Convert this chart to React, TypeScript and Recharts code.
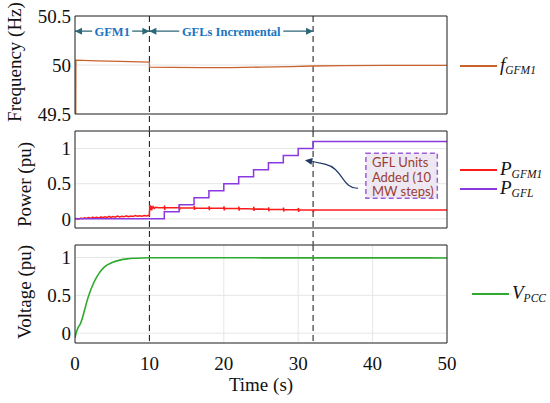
import React from 'react';
import { LineChart, Line, XAxis, YAxis, CartesianGrid, ReferenceLine, ReferenceArea, Legend } from 'recharts';

const timeTicks = [0, 10, 20, 30, 40, 50];
const freqTicks = [49.5, 50, 50.5];
const powerTicks = [0, 0.5, 1];
const voltTicks = [0, 0.5, 1];
const eventTimes = [10, 32];
const legendOrder = ['f_GFM1', 'P_GFM1', 'P_GFL', 'V_PCC'];

// [time (s), value]
const freqGFM1 = [
  [0.1, 49.5], [0.12, 50.05], [3, 50.042], [6, 50.036], [9.98, 50.03], [10.02, 49.978],
  [13, 49.975], [17, 49.973], [21, 49.974], [25, 49.978], [29, 49.984], [32, 49.99],
  [36, 49.994], [42, 49.996], [50, 49.997],
];

const pGFM1 = [
  [0, 0], [0.3, 0.004], [0.5, -0.004], [0.8, 0.01], [1.0, 0.002], [1.3, 0.016], [1.5, 0.005],
  [1.8, 0.02], [2.1, 0.008], [2.4, 0.026], [2.6, 0.012], [2.9, 0.022], [3.2, 0.013], [3.5, 0.03],
  [3.7, 0.016], [4.0, 0.028], [4.3, 0.019], [4.6, 0.036], [4.8, 0.021], [5.1, 0.033], [5.4, 0.024],
  [5.7, 0.04], [6.0, 0.027], [6.3, 0.037], [6.6, 0.029], [6.9, 0.042], [7.2, 0.032], [7.5, 0.041],
  [7.8, 0.034], [8.1, 0.046], [8.4, 0.036], [8.7, 0.044], [9.0, 0.038], [9.3, 0.048], [9.6, 0.04],
  [9.9, 0.047], [10.0, 0.045],
  [10.05, 0.2], [10.15, 0.125], [10.25, 0.185], [10.35, 0.14], [10.5, 0.175], [10.65, 0.15],
  [10.85, 0.165], [11.2, 0.157],
  [12.0, 0.158], [12.03, 0.19], [12.06, 0.125], [12.1, 0.158],
  [14.0, 0.157], [14.03, 0.185], [14.06, 0.128], [14.1, 0.157],
  [16.0, 0.155], [16.03, 0.183], [16.06, 0.127], [16.1, 0.155],
  [18.0, 0.152], [18.03, 0.18], [18.06, 0.124], [18.1, 0.152],
  [20.0, 0.15], [20.03, 0.18], [20.06, 0.12], [20.1, 0.15],
  [22.0, 0.146], [22.03, 0.176], [22.06, 0.116], [22.1, 0.146],
  [24.0, 0.142], [24.03, 0.17], [24.06, 0.112], [24.1, 0.142],
  [26.0, 0.138], [26.03, 0.165], [26.06, 0.108], [26.1, 0.138],
  [28.0, 0.134], [28.03, 0.16], [28.06, 0.104], [28.1, 0.134],
  [30.0, 0.13], [30.03, 0.155], [30.06, 0.1], [30.1, 0.13],
  [32.0, 0.127], [32.04, 0.095], [32.1, 0.126],
  [50.0, 0.125],
];

const pGFL = [
  [0, 0], [12, 0.1], [14, 0.2], [16, 0.3], [18, 0.4], [20, 0.5], [22, 0.6],
  [24, 0.7], [26, 0.8], [28, 0.9], [30, 1.0], [32, 1.1], [50, 1.1],
];

const vPCC = [
  [0, -0.06], [0.2, 0.02], [0.45, 0.08], [0.7, 0.12], [1.0, 0.2], [1.3, 0.31], [1.6, 0.42],
  [2.0, 0.54], [2.4, 0.64], [2.8, 0.72], [3.3, 0.8], [3.8, 0.86], [4.4, 0.905], [5.0, 0.935],
  [6.0, 0.965], [7.0, 0.982], [8.0, 0.99], [9.0, 0.994], [10, 0.996], [20, 0.996], [30, 0.995],
  [40, 0.995], [50, 0.994],
];

const toRows = (pts: number[][]) => pts.map(([t, v]) => ({ t, v }));

const SERIF = '"Liberation Serif", "Times New Roman", serif';
const FRAME = '#262626';
const GRID = '#e6e6e6';
const ARROW = '#2c6677';
const W = 550;
const MARGIN_RIGHT = 103;
const tickFont = { fontFamily: SERIF, fontSize: 19, fill: '#111', style: { fontFamily: SERIF } };

// MATLAB style box: inward ticks on all four sides
function frameAxes(yDomain: number[], yTicks: number[]) {
  return [
    <XAxis key="xt" xAxisId="top" orientation="top" mirror type="number" domain={[0, 50]} ticks={timeTicks}
      allowDataOverflow tick={false} tickSize={4} stroke={FRAME} />,
    <XAxis key="xb" xAxisId="bin" orientation="bottom" mirror type="number" domain={[0, 50]} ticks={timeTicks}
      allowDataOverflow tick={false} tickSize={4} axisLine={false} stroke={FRAME} />,
    <YAxis key="yl" yAxisId="lin" orientation="left" mirror type="number" domain={yDomain} ticks={yTicks}
      allowDataOverflow tick={false} tickSize={4} axisLine={false} stroke={FRAME} />,
    <YAxis key="yr" yAxisId="right" orientation="right" mirror type="number" domain={yDomain} ticks={yTicks}
      allowDataOverflow tick={false} tickSize={4} stroke={FRAME} />,
  ];
}

function SeriesLegend(props: any) {
  const items = [...(props.payload || [])].sort(
    (a: any, b: any) => legendOrder.indexOf(a.value) - legendOrder.indexOf(b.value),
  );
  return (
    <div>
      {items.map((entry: any) => {
        const [main, sub] = String(entry.value).split('_');
        return (
          <div key={entry.value} style={{ display: 'flex', alignItems: 'center', height: 19 }}>
            <span style={{ width: 37, borderTop: `2px solid ${entry.color}`, marginRight: 3 }} />
            <span style={{ fontFamily: SERIF, fontStyle: 'italic', fontSize: 19, lineHeight: '17px', color: '#111', whiteSpace: 'nowrap' }}>
              {main}
              <span style={{ fontSize: 11.5, position: 'relative', top: 3 }}>{sub}</span>
            </span>
          </div>
        );
      })}
    </div>
  );
}

const yLabel = (text: string, x: number, shift = 0) => (props: any) => {
  const vb = props.viewBox;
  const cy = vb.y + vb.height / 2 + shift;
  return (
    <text x={x} y={cy} transform={`rotate(-90 ${x} ${cy})`} textAnchor="middle"
      fontFamily={SERIF} fontSize={19} fill="#111">{text}</text>
  );
};

const spanShape = (label: string, gap: number) => (p: any) => {
  const { x1, y1, x2 } = p;
  const cx = (x1 + x2) / 2;
  return (
    <g>
      <line x1={x1} y1={y1} x2={x2} y2={y1} stroke={ARROW} strokeWidth={1.3} />
      <path d={`M${x1},${y1} l7,-3.5 v7 z`} fill={ARROW} />
      <path d={`M${x2},${y1} l-7,-3.5 v7 z`} fill={ARROW} />
      <rect x={cx - gap / 2} y={y1 - 8} width={gap} height={16} fill="#fff" />
      <text x={cx} y={y1} dy="0.36em" textAnchor="middle" fontFamily={SERIF} fontWeight="bold"
        fontSize={12.5} fill="#1b74c0">{label}</text>
    </g>
  );
};

const curvedArrow = (p: any) => {
  const { x1, y1, x2, y2 } = p;
  const dx = x2 - x1;
  const dy = y2 - y1;
  const pt = (fx: number, fy: number) => `${x1 + fx * dx},${y1 + fy * dy}`;
  return (
    <g>
      <path d={`M${x1},${y1} C${pt(0.3, -0.034)} ${pt(0.283, 0.724)} ${pt(0.623, 0.862)} L${pt(0.86, 0.955)}`}
        fill="none" stroke="#1f3864" strokeWidth={1.2} />
      <path d={`M${x2},${y2} l8,-2.3 l-1.5,6.8 z`} fill="#1f3864" />
    </g>
  );
};

const boxLabel = (props: any) => {
  const vb = props.viewBox;
  const lines = ['GFL Units', 'Added (10', 'MW steps)'];
  return (
    <g>
      {lines.map((s, i) => (
        <text key={s} x={vb.x + 6} y={vb.y + 9.5 + i * 14.5} dy="0.36em" fontFamily="Lato, 'Open Sans', sans-serif"
          fontSize={13} fill="#9b3d33">{s}</text>
      ))}
    </g>
  );
};

function eventLines(yTop: number, yBottom: number) {
  return eventTimes.map((t) => (
    <ReferenceLine key={t} segment={[{ x: t, y: yTop }, { x: t, y: yBottom }]} ifOverflow="visible"
      stroke="#111" strokeWidth={1} strokeDasharray="6 4" />
  ));
}

const freqDomain = [49.5, 50.5];
const powerDomain = [-0.13, 1.25];
const voltDomain = [-0.13, 1.165];

export default function App() {
  return (
    <div style={{ position: 'absolute', left: 0, top: 0, width: W, height: 403, background: '#fff', fontFamily: SERIF }}>
      <div style={{ position: 'absolute', left: 0, top: 0 }}>
        <LineChart width={W} height={134} margin={{ top: 16, right: MARGIN_RIGHT, bottom: 0, left: 0 }}>
          <CartesianGrid stroke={GRID} />
          <XAxis dataKey="t" type="number" domain={[0, 50]} ticks={timeTicks} allowDataOverflow height={20}
            tick={false} tickLine={false} stroke={FRAME} />
          <YAxis type="number" domain={freqDomain} ticks={freqTicks} allowDataOverflow width={75}
            tickLine={false} tickSize={0} tickMargin={4} stroke={FRAME} tick={tickFont}
            label={{ content: yLabel('Frequency (Hz)', 21, -3) }} />
          {frameAxes(freqDomain, freqTicks)}
          {eventLines(50.5, 49.32)}
          <ReferenceLine segment={[{ x: 0, y: 50.345 }, { x: 10, y: 50.345 }]} shape={spanShape('GFM1', 40)} />
          <ReferenceLine segment={[{ x: 10, y: 50.345 }, { x: 32, y: 50.345 }]} shape={spanShape('GFLs Incremental', 104)} />
          <Line data={toRows(freqGFM1)} dataKey="v" name="f_GFM1" stroke="#c9632c" strokeWidth={1.3}
            dot={false} isAnimationActive={false} />
          <Legend layout="vertical" align="center" verticalAlign="middle" content={SeriesLegend}
            wrapperStyle={{ left: 460, top: 65.5 - 9.5, width: 88 }} />
        </LineChart>
      </div>

      <div style={{ position: 'absolute', left: 0, top: 121 }}>
        <LineChart width={W} height={127} margin={{ top: 10, right: MARGIN_RIGHT, bottom: 0, left: 0 }}>
          <CartesianGrid stroke={GRID} />
          <XAxis dataKey="t" type="number" domain={[0, 50]} ticks={timeTicks} allowDataOverflow height={20}
            tick={false} tickLine={false} stroke={FRAME} />
          <YAxis type="number" domain={powerDomain} ticks={powerTicks} allowDataOverflow width={75}
            tickLine={false} tickSize={0} tickMargin={4} stroke={FRAME} tick={tickFont}
            label={{ content: yLabel('Power (pu)', 31, 5) }} />
          {frameAxes(powerDomain, powerTicks)}
          {eventLines(1.25, -0.37)}
          <ReferenceArea x1={39.1} x2={48.7} y1={0.294} y2={0.933} fill="#ede8f2" fillOpacity={1}
            stroke="#9c5fd8" strokeWidth={1.5} strokeDasharray="5 3" label={boxLabel} />
          <ReferenceLine segment={[{ x: 38.05, y: 0.436 }, { x: 30.9, y: 0.834 }]} ifOverflow="visible"
            shape={curvedArrow} />
          <Line data={toRows(pGFM1)} dataKey="v" name="P_GFM1" stroke="#ff1a1a" strokeWidth={1.5}
            dot={false} isAnimationActive={false} />
          <Line data={toRows(pGFL)} dataKey="v" name="P_GFL" type="stepAfter" stroke="#8a38e0" strokeWidth={1.5}
            dot={false} isAnimationActive={false} />
          <Legend layout="vertical" align="center" verticalAlign="middle" content={SeriesLegend}
            wrapperStyle={{ left: 460, top: 170 - 121 - 9.5, width: 88 }} />
        </LineChart>
      </div>

      <div style={{ position: 'absolute', left: 0, top: 235 }}>
        <LineChart width={W} height={168} margin={{ top: 10, right: MARGIN_RIGHT, bottom: 0, left: 0 }}>
          <CartesianGrid stroke={GRID} />
          <XAxis dataKey="t" type="number" domain={[0, 50]} ticks={timeTicks} allowDataOverflow height={60}
            tickLine={false} tickSize={0} tickMargin={14} stroke={FRAME} tick={tickFont}
            label={{
              content: (p: any) => (
                <text x={p.viewBox.x + p.viewBox.width / 2} y={p.viewBox.y + 48} textAnchor="middle"
                  fontFamily={SERIF} fontSize={19} fill="#111">Time (s)</text>
              ),
            }} />
          <YAxis type="number" domain={voltDomain} ticks={voltTicks} allowDataOverflow width={75}
            tickLine={false} tickSize={0} tickMargin={4} stroke={FRAME} tick={tickFont}
            label={{ content: yLabel('Voltage (pu)', 31, -2) }} />
          {frameAxes(voltDomain, voltTicks)}
          {eventLines(1.165, -0.13)}
          <Line data={toRows(vPCC)} dataKey="v" name="V_PCC" type="monotone" stroke="#2eab2e" strokeWidth={1.6}
            dot={false} isAnimationActive={false} />
          <Legend layout="vertical" align="center" verticalAlign="middle" content={SeriesLegend}
            wrapperStyle={{ left: 472, top: 294 - 235 - 9.5, width: 76 }} />
        </LineChart>
      </div>
    </div>
  );
}
